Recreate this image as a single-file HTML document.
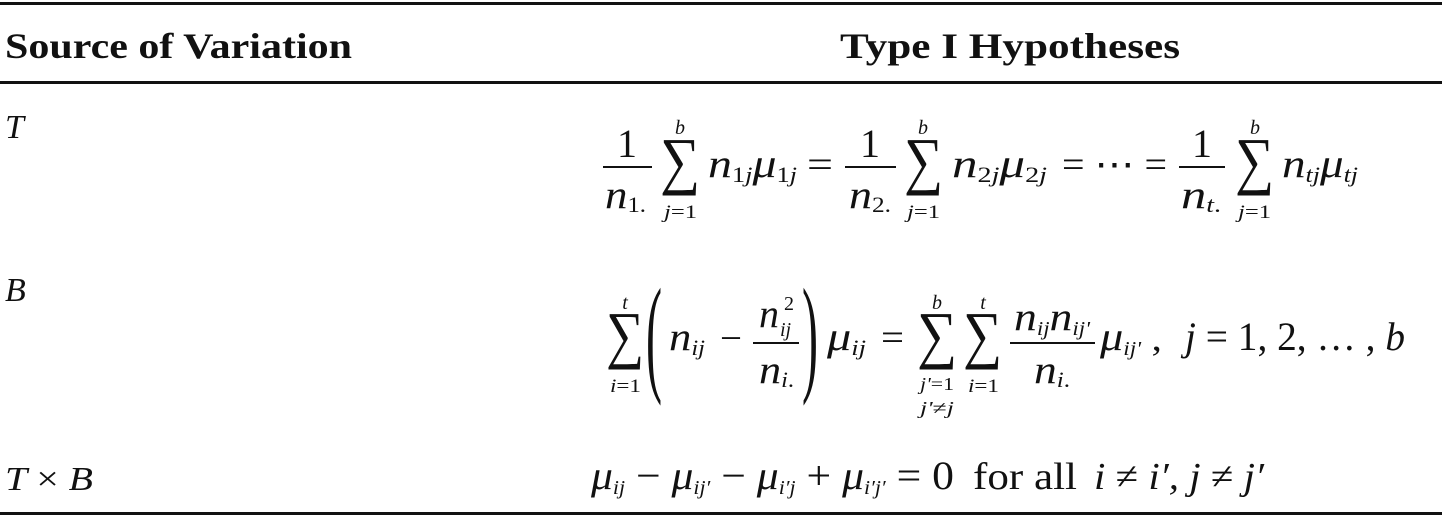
<!DOCTYPE html>
<html><head><meta charset="utf-8"><style>
html,body{margin:0;padding:0;background:#fff;}
svg{display:block;}
text{font-family:"Liberation Serif","Times New Roman",Times,serif;fill:#111;}
.m{font-style:italic;}
.h{font-weight:bold;}
</style></head><body>
<svg width="1442" height="519" viewBox="0 0 1442 519">
<rect x="0" y="2" width="1442" height="3" fill="#111"/>
<rect x="0" y="81" width="1442" height="3" fill="#111"/>
<rect x="0" y="512" width="1442" height="3" fill="#111"/>

<text class="h" x="5" y="58" font-size="36" textLength="347" lengthAdjust="spacingAndGlyphs">Source of Variation</text>
<text class="h" x="840" y="58" font-size="36" textLength="340" lengthAdjust="spacingAndGlyphs">Type I Hypotheses</text>

<text class="m" x="5" y="138" font-size="34">T</text>
<text class="m" x="5" y="301" font-size="34">B</text>
<text class="m" x="5" y="490" font-size="34" textLength="88" lengthAdjust="spacingAndGlyphs">T <tspan style="font-style:normal">×</tspan> B</text>

<g>
  <text x="627" y="157" font-size="40" text-anchor="middle">1</text>
  <rect x="603" y="166" width="49" height="2" fill="#111"/>
  <text class="m" x="605" y="208" font-size="40" textLength="41" lengthAdjust="spacingAndGlyphs">n<tspan font-size="22" font-style="normal" dy="4">1.</tspan></text>
  <text class="m" x="680" y="134" font-size="20" text-anchor="middle">b</text>
  <text x="660" y="182" font-size="64" textLength="40" lengthAdjust="spacingAndGlyphs">∑</text>
  <text class="m" x="664" y="218" font-size="19" textLength="33" lengthAdjust="spacingAndGlyphs">j<tspan font-style="normal">=1</tspan></text>
  <text class="m" x="708" y="177" font-size="40" textLength="89" lengthAdjust="spacingAndGlyphs">n<tspan font-size="22" dy="5"><tspan font-style="normal">1</tspan>j</tspan><tspan dy="-5">μ</tspan><tspan font-size="22" dy="5"><tspan font-style="normal">1</tspan>j</tspan></text>
  <text x="807" y="177" font-size="38" textLength="26" lengthAdjust="spacingAndGlyphs">=</text>

  <text x="870" y="157" font-size="40" text-anchor="middle">1</text>
  <rect x="845" y="166" width="51" height="2" fill="#111"/>
  <text class="m" x="849" y="208" font-size="40" textLength="42" lengthAdjust="spacingAndGlyphs">n<tspan font-size="22" font-style="normal" dy="4">2.</tspan></text>
  <text class="m" x="923" y="134" font-size="20" text-anchor="middle">b</text>
  <text x="904" y="182" font-size="64" textLength="39" lengthAdjust="spacingAndGlyphs">∑</text>
  <text class="m" x="907" y="218" font-size="19" textLength="33" lengthAdjust="spacingAndGlyphs">j<tspan font-style="normal">=1</tspan></text>
  <text class="m" x="952" y="177" font-size="40" textLength="95" lengthAdjust="spacingAndGlyphs">n<tspan font-size="22" dy="5"><tspan font-style="normal">2</tspan>j</tspan><tspan dy="-5">μ</tspan><tspan font-size="22" dy="5"><tspan font-style="normal">2</tspan>j</tspan></text>
  <text x="1062" y="177" font-size="38" textLength="105" lengthAdjust="spacingAndGlyphs">= ⋯ =</text>

  <text x="1202" y="157" font-size="40" text-anchor="middle">1</text>
  <rect x="1179" y="166" width="46" height="2" fill="#111"/>
  <text class="m" x="1181" y="208" font-size="40" textLength="40" lengthAdjust="spacingAndGlyphs">n<tspan font-size="22" dy="4">t<tspan font-style="normal">.</tspan></tspan></text>
  <text class="m" x="1255" y="134" font-size="20" text-anchor="middle">b</text>
  <text x="1235" y="182" font-size="64" textLength="39" lengthAdjust="spacingAndGlyphs">∑</text>
  <text class="m" x="1238" y="218" font-size="19" textLength="33" lengthAdjust="spacingAndGlyphs">j<tspan font-style="normal">=1</tspan></text>
  <text class="m" x="1282" y="177" font-size="40" textLength="76" lengthAdjust="spacingAndGlyphs">n<tspan font-size="22" dy="5">tj</tspan><tspan dy="-5">μ</tspan><tspan font-size="22" dy="5">tj</tspan></text>
</g>

<g>
  <text class="m" x="625" y="309" font-size="20" text-anchor="middle">t</text>
  <text x="606" y="356" font-size="64" textLength="38" lengthAdjust="spacingAndGlyphs">∑</text>
  <text class="m" x="610" y="392" font-size="19" textLength="31" lengthAdjust="spacingAndGlyphs">i<tspan font-style="normal">=1</tspan></text>
  <text x="646" y="378" font-size="130" textLength="16" lengthAdjust="spacingAndGlyphs">(</text>
  <text class="m" x="669" y="350" font-size="40" textLength="36" lengthAdjust="spacingAndGlyphs">n<tspan font-size="22" dy="5">ij</tspan></text>
  <text x="720" y="350" font-size="36" textLength="22" lengthAdjust="spacingAndGlyphs">−</text>
  <text class="m" x="759" y="327" font-size="40">n</text>
  <text x="784" y="310" font-size="20">2</text>
  <text class="m" x="780" y="336" font-size="20">ij</text>
  <rect x="753" y="342" width="46" height="2" fill="#111"/>
  <text class="m" x="759" y="383" font-size="40" textLength="35" lengthAdjust="spacingAndGlyphs">n<tspan font-size="22" dy="4">i<tspan font-style="normal">.</tspan></tspan></text>
  <text x="802" y="378" font-size="130" textLength="16" lengthAdjust="spacingAndGlyphs">)</text>
  <text class="m" x="827" y="350" font-size="40" textLength="39" lengthAdjust="spacingAndGlyphs">μ<tspan font-size="22" dy="5">ij</tspan></text>
  <text x="881" y="350" font-size="38" textLength="23" lengthAdjust="spacingAndGlyphs">=</text>
  <text class="m" x="937" y="309" font-size="20" text-anchor="middle">b</text>
  <text x="917" y="356" font-size="64" textLength="40" lengthAdjust="spacingAndGlyphs">∑</text>
  <text class="m" x="937" y="390" font-size="18" text-anchor="middle" textLength="34" lengthAdjust="spacingAndGlyphs">j'<tspan font-style="normal">=1</tspan></text>
  <text class="m" x="937" y="414" font-size="18" text-anchor="middle" textLength="34" lengthAdjust="spacingAndGlyphs">j'<tspan font-style="normal">≠</tspan>j</text>
  <text class="m" x="983" y="309" font-size="20" text-anchor="middle">t</text>
  <text x="963" y="356" font-size="64" textLength="39" lengthAdjust="spacingAndGlyphs">∑</text>
  <text class="m" x="968" y="392" font-size="19" textLength="31" lengthAdjust="spacingAndGlyphs">i<tspan font-style="normal">=1</tspan></text>
  <text class="m" x="1014" y="330" font-size="40" textLength="76" lengthAdjust="spacingAndGlyphs">n<tspan font-size="20" dy="5">ij</tspan><tspan dy="-5">n</tspan><tspan font-size="20" dy="5">ij'</tspan></text>
  <rect x="1010" y="342" width="85" height="2" fill="#111"/>
  <text class="m" x="1034" y="383" font-size="40" textLength="36" lengthAdjust="spacingAndGlyphs">n<tspan font-size="22" dy="4">i<tspan font-style="normal">.</tspan></tspan></text>
  <text class="m" x="1100" y="350" font-size="40" textLength="62" lengthAdjust="spacingAndGlyphs">μ<tspan font-size="20" dy="5">ij'</tspan><tspan font-style="normal" font-size="36" dy="-5"> ,</tspan></text>
  <text class="m" x="1185" y="350" font-size="40" textLength="220" lengthAdjust="spacingAndGlyphs">j <tspan font-style="normal">= 1, 2, … ,</tspan> b</text>
</g>

<text class="m" x="591" y="489" font-size="40" textLength="363" lengthAdjust="spacingAndGlyphs">μ<tspan font-size="20" dy="5">ij</tspan><tspan font-style="normal" dy="-5"> − </tspan>μ<tspan font-size="20" dy="5">ij′</tspan><tspan font-style="normal" dy="-5"> − </tspan>μ<tspan font-size="20" dy="5">i′j</tspan><tspan font-style="normal" dy="-5"> + </tspan>μ<tspan font-size="20" dy="5">i′j′</tspan><tspan font-style="normal" dy="-5"> = 0</tspan></text>
<text x="973" y="489" font-size="38" textLength="104" lengthAdjust="spacingAndGlyphs">for all</text>
<text class="m" x="1094" y="489" font-size="38" textLength="170" lengthAdjust="spacingAndGlyphs">i <tspan font-style="normal">≠</tspan> i′, j <tspan font-style="normal">≠</tspan> j′</text>
</svg>
</body></html>
